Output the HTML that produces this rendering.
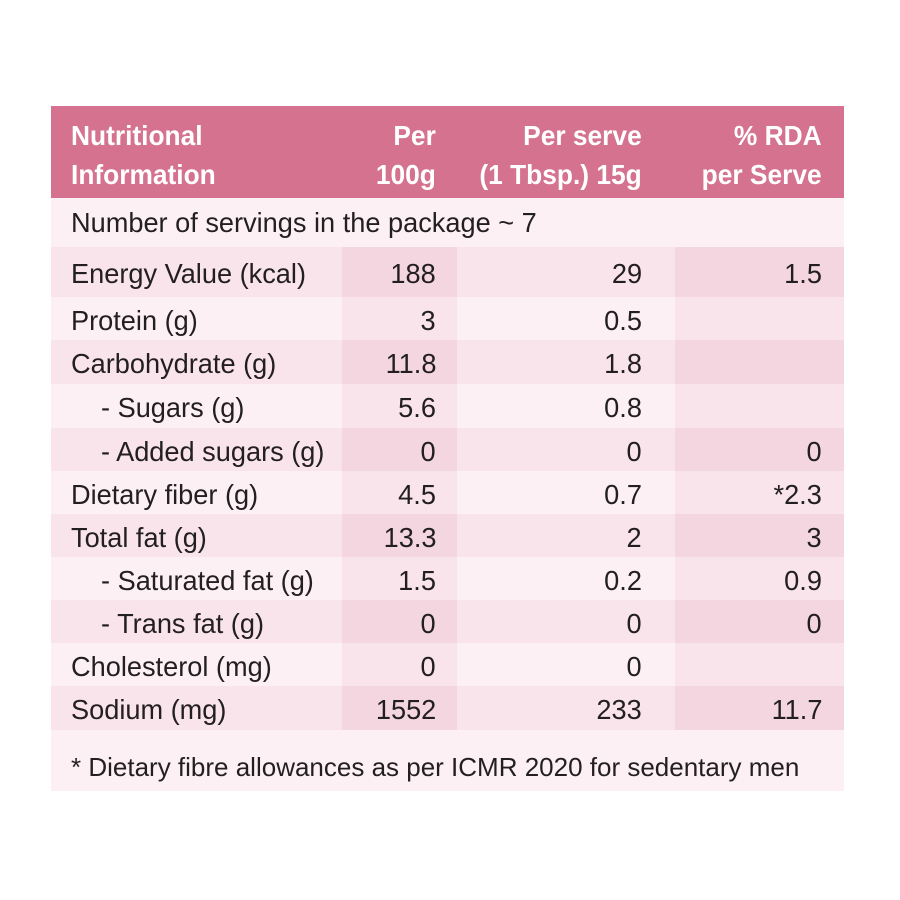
<!DOCTYPE html>
<html><head><meta charset="utf-8"><style>
body{margin:0;width:900px;height:900px;background:#fff;position:relative;overflow:hidden;font-family:"Liberation Sans",sans-serif;}
.c{position:absolute;}
.t{position:absolute;white-space:nowrap;font-size:28px;color:#231f20;line-height:1;}
.t span{display:inline-block;transform:scaleX(.97);}
.l span{transform-origin:left center;}
.r span{transform-origin:right center;}
.h{color:#fff;font-weight:bold;font-size:28px;}
.h span{transform:scaleX(.94);}
</style></head><body>
<div class="c" style="left:51px;top:106px;width:793px;height:92px;background:#d4728f"></div>
<div class="t h l" style="left:71px;top:116px;line-height:39px"><span>Nutritional<br>Information</span></div>
<div class="t h r" style="right:464px;top:116px;line-height:39px;text-align:right"><span>Per<br>100g</span></div>
<div class="t h r" style="right:258px;top:116px;line-height:39px;text-align:right"><span>Per serve<br>(1 Tbsp.) 15g</span></div>
<div class="t h r" style="right:78px;top:116px;line-height:39px;text-align:right"><span>% RDA<br>per Serve</span></div>
<div class="c" style="left:51px;top:198px;width:793px;height:49px;background:#fcf0f4"></div>
<div class="t l" style="left:71px;top:209px"><span>Number of servings in the package ~ 7</span></div>
<div class="c" style="left:51px;top:730px;width:793px;height:61px;background:#fcf0f4"></div>
<div class="t l" style="left:71px;top:754px;font-size:26px"><span style="transform:scaleX(1)">* Dietary fibre allowances as per ICMR 2020 for sedentary men</span></div>
<script>
const labels=["Energy Value (kcal)","Protein (g)","Carbohydrate (g)","- Sugars (g)","- Added sugars (g)","Dietary fiber (g)","Total fat (g)","- Saturated fat (g)","- Trans fat (g)","Cholesterol (mg)","Sodium (mg)"];
const per100=["188","3","11.8","5.6","0","4.5","13.3","1.5","0","0","1552"];
const perServe=["29","0.5","1.8","0.8","0","0.7","2","0.2","0","0","233"];
const rda=["1.5","","","","0","*2.3","3","0.9","0","","11.7"];
const tops=[247,297,340,384,428,471,514,557,600,643,686,730];
const cols=[[51,291],[342,115],[457,218],[675,169]];
const root=document.body;
labels.forEach((lab,i)=>{
  const dark=i%2===0, y=tops[i], h=tops[i+1]-y;
  cols.forEach((c,j)=>{
    const d=document.createElement('div');
    d.className='c';
    
    
    const alt=j%2===1;
    d.style.cssText=`left:${c[0]}px;top:${y}px;width:${c[1]}px;height:${h}px;background:${dark?(alt?'#f3d6df':'#f8e4ea'):(alt?'#f8e4ea':'#fcf0f4')}`;
    root.appendChild(d);
  });
  const ty=y+(h-28)/2+2;
  const ind=lab.startsWith('-');
  const a=document.createElement('div');
  a.className='t l';
  
  
  a.style.cssText=`left:${ind?101:71}px;top:${ty}px`;
  a.innerHTML='<span>'+lab+'</span>';
  root.appendChild(a);
  [[per100[i],464],[perServe[i],258],[rda[i],78]].forEach(([v,r])=>{
    const e=document.createElement('div');
    e.className='t r';
    
    
    e.style.cssText=`right:${r}px;top:${ty}px;text-align:right`;
    e.innerHTML='<span>'+v+'</span>';
    root.appendChild(e);
  });
});
</script>
</body></html>
